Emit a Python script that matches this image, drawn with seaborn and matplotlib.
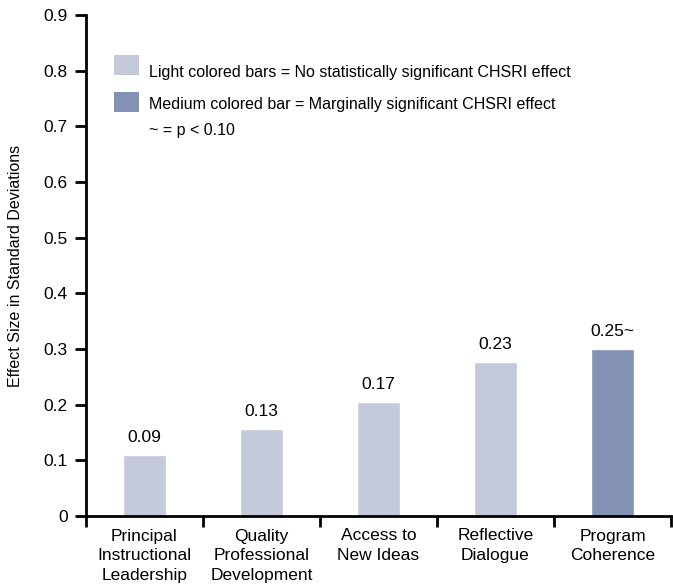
import numpy as np
import seaborn as sns
import pandas as pd
import matplotlib.pyplot as plt
from matplotlib.patches import Rectangle
from matplotlib.ticker import FixedLocator

categories = ["Principal\nInstructional\nLeadership", "Quality\nProfessional\nDevelopment",
              "Access to\nNew Ideas", "Reflective\nDialogue", "Program\nCoherence"]
bar_heights = [0.11, 0.156, 0.205, 0.277, 0.30]
value_labels = ["0.09", "0.13", "0.17", "0.23", "0.25~"]
bar_colors = ["#C4CAD9", "#C4CAD9", "#C4CAD9", "#C4CAD9", "#8291B4"]
y_ticks = [0, 0.1, 0.2, 0.3, 0.4, 0.5, 0.6, 0.7, 0.8, 0.9]
y_tick_labels = ["0", "0.1", "0.2", "0.3", "0.4", "0.5", "0.6", "0.7", "0.8", "0.9"]

legend_labels = ["Light colored bars = No statistically significant CHSRI effect",
                 "Medium colored bar = Marginally significant CHSRI effect"]
legend_colors = ["#C4CAD9", "#8291B4"]
note = "~ = p < 0.10"

sns.set_style("white")
plt.rcParams['font.family'] = ['Liberation Sans', 'DejaVu Sans']
plt.rcParams['text.color'] = 'black'
plt.rcParams['xtick.color'] = 'black'
plt.rcParams['ytick.color'] = 'black'
plt.rcParams['axes.labelcolor'] = 'black'

df = pd.DataFrame({"cat": categories, "val": bar_heights})

W, H = 673, 588
fig = plt.figure(figsize=(W / 100, H / 100), dpi=100)
ax = fig.add_axes([86 / W, 1 - 516 / H, (671 - 86) / W, (516 - 15) / H])

sns.barplot(data=df, x="cat", y="val", hue="cat", palette=bar_colors,
            width=0.375, legend=False, ax=ax, saturation=1)

for i, (h, lab) in enumerate(zip(bar_heights, value_labels)):
    ax.annotate(lab, (i, h), xytext=(0, 7), textcoords="offset points",
                ha="center", va="bottom", fontsize=12.5)

ax.set_xlim(-0.5, 4.5)
ax.set_ylim(0, 0.9)
ax.set_yticks(y_ticks, y_tick_labels)
ax.xaxis.set_minor_locator(FixedLocator(np.arange(-0.5, 5, 1)))
ax.tick_params(axis="x", which="major", length=0, pad=9, labelsize=12.5)
ax.tick_params(axis="x", which="minor", length=8, width=2, direction="out", bottom=True)
ax.tick_params(axis="y", length=8, width=2, direction="out", left=True, pad=5, labelsize=12.5)
for t in ax.get_xticklabels():
    t.set_linespacing(1.4)

ax.set_xlabel("")
ax.set_ylabel("Effect Size in Standard Deviations", fontsize=11.5)
ax.yaxis.set_label_coords(-0.107, 0.5)

sns.despine(ax=ax)
for s in ["left", "bottom"]:
    ax.spines[s].set_linewidth(2)
    ax.spines[s].set_color("black")

# legend drawn by hand
patch_tops = [55, 92]
text_ys = [72, 105]
for lab, col, pt, ty in zip(legend_labels, legend_colors, patch_tops, text_ys):
    fig.patches.append(Rectangle((114 / W, 1 - (pt + 20) / H), 25 / W, 20 / H,
                                 transform=fig.transFigure, facecolor=col, edgecolor="none"))
    fig.text(149 / W, 1 - ty / H, lab, fontsize=11.5, va="center", ha="left")
fig.text(149 / W, 1 - 131 / H, note, fontsize=11.5, va="center", ha="left")

plt.savefig("out.png", dpi=100)
